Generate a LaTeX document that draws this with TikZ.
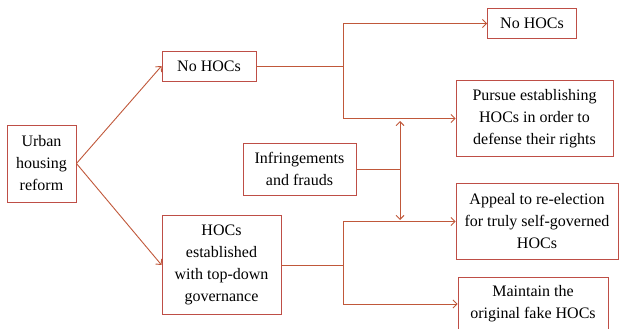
\documentclass[tikz,border=0pt]{standalone}
\usepackage{fontspec}
\setmainfont{Liberation Serif}
\usetikzlibrary{arrows.meta}
\definecolor{boxc}{RGB}{190,78,70}
\definecolor{linec}{RGB}{192,88,58}
\begin{document}
\begin{tikzpicture}[x=1pt,y=-1pt,
  box/.style={draw=boxc,line width=0.9pt,rectangle,inner sep=0pt,align=center,
    font=\fontsize{16}{22}\selectfont},
  conn/.style={draw=linec,line width=0.9pt},
  arr/.style={conn,-{Straight Barb[length=4pt,width=8pt]}},
  darr/.style={conn,{Straight Barb[length=4pt,width=8pt]}-{Straight Barb[length=4pt,width=8pt]}}]
\useasboundingbox (0,0) rectangle (619,329);
\node[box,minimum width=69pt,minimum height=77pt] (urban) at (41.5,163.5) {Urban\\housing\\reform};
\node[box,minimum width=94pt,minimum height=30pt] (nohoc) at (209,66) {No HOCs};
\node[box,minimum width=119pt,minimum height=99pt] (hocs) at (221.5,265) {HOCs\\established\\with top-down\\governance};
\node[box,minimum width=113pt,minimum height=52pt] (infr) at (299.5,169) {Infringements\\and frauds};
\node[box,minimum width=89pt,minimum height=30pt] (nohoctop) at (532,23.5) {No HOCs};
\node[box,minimum width=157pt,minimum height=76pt] (pursue) at (534.5,118.5) {Pursue establishing\\HOCs in order to\\defense their rights};
\node[box,minimum width=162pt,minimum height=76pt] (appeal) at (537,221.5) {Appeal to re-election\\for truly self-governed\\HOCs};
\node[box,minimum width=150pt,minimum height=54pt] (maintain) at (533,304) {Maintain the\\original fake HOCs};
\coordinate (j1) at (343,66);
\coordinate (j2) at (343,265);
\coordinate (jv) at (400,169);
\coordinate (up) at (400,121);
\coordinate (dn) at (400,220);
\draw[arr] (urban.east) -- (nohoc.west);
\draw[arr] (urban.east) -- (hocs.west);
\draw[conn] (nohoc.east) -- (j1);
\draw[arr] (j1) |- (nohoctop.west);
\draw[arr] (j1) |- (pursue.west);
\draw[conn] (hocs.east) -- (j2);
\draw[arr] (j2) |- (appeal.west);
\draw[arr] (j2) |- (maintain.west);
\draw[conn] (infr.east) -- (jv);
\draw[darr] (up) -- (dn);
\end{tikzpicture}
\end{document}
